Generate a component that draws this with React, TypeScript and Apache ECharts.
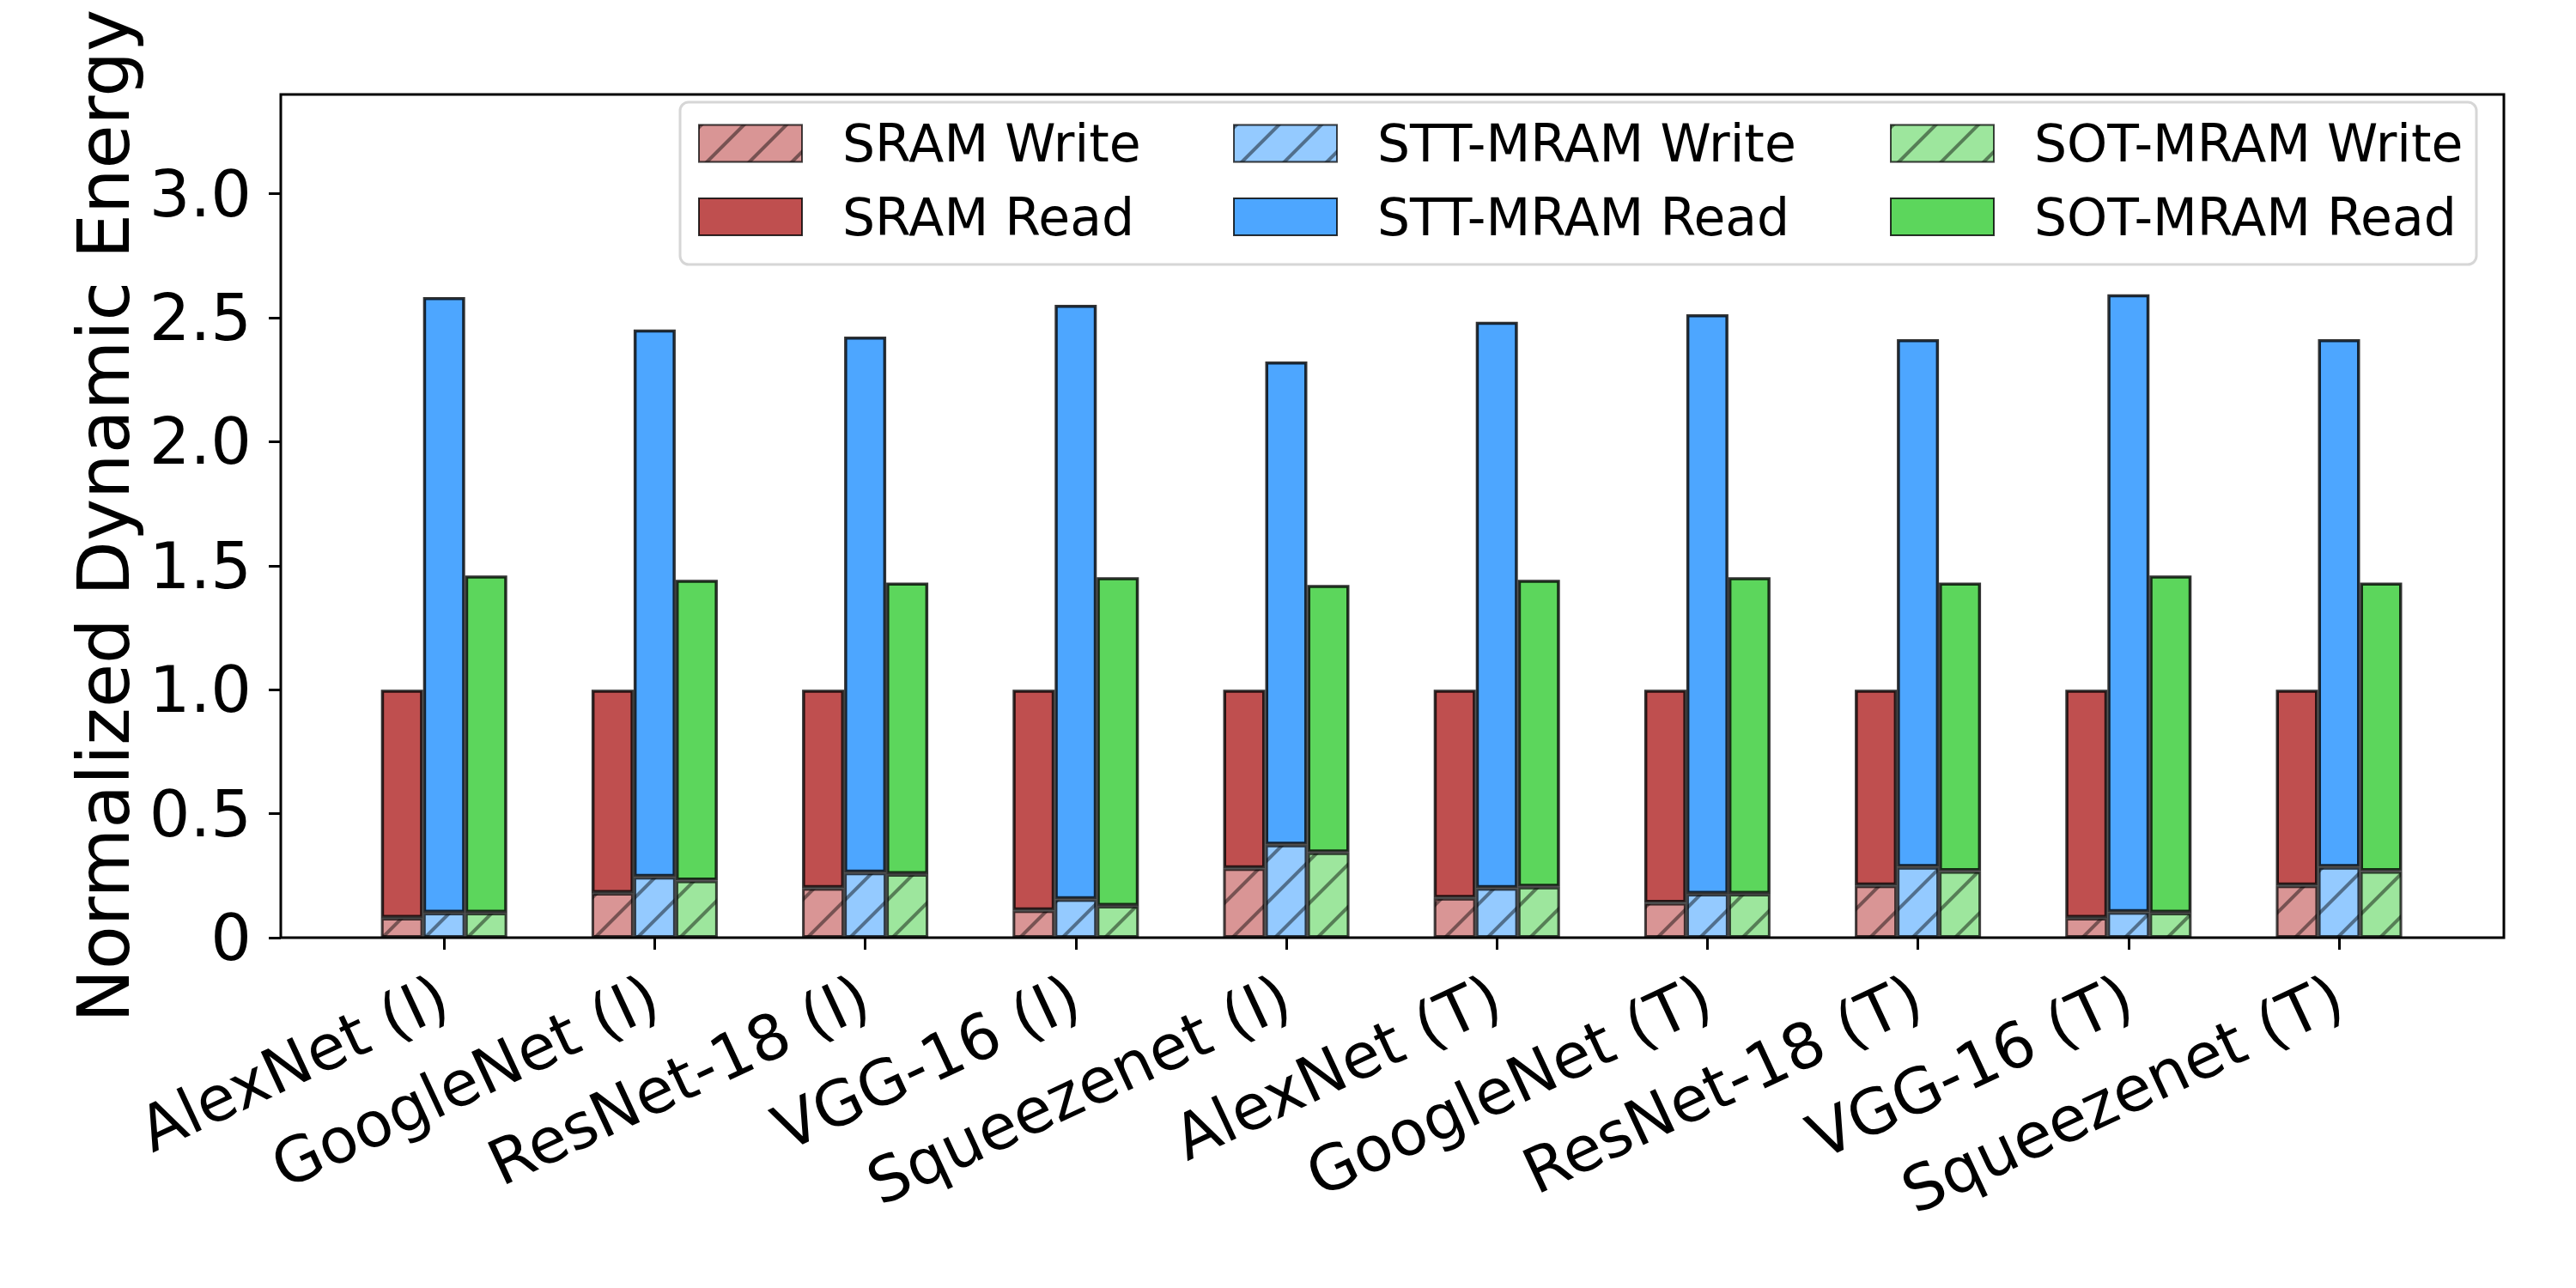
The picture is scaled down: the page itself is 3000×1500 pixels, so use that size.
import React, { useEffect, useRef } from "react";
import * as echarts from "echarts";

const categories = [
  "AlexNet (I)", "GoogleNet (I)", "ResNet-18 (I)", "VGG-16 (I)", "Squeezenet (I)",
  "AlexNet (T)", "GoogleNet (T)", "ResNet-18 (T)", "VGG-16 (T)", "Squeezenet (T)",
];

const sramWrite = [0.08, 0.18, 0.2, 0.11, 0.28, 0.16, 0.14, 0.21, 0.08, 0.21];
const sramRead = [0.92, 0.82, 0.8, 0.89, 0.72, 0.84, 0.86, 0.79, 0.92, 0.79];
const sttWrite = [0.1, 0.245, 0.262, 0.155, 0.375, 0.2, 0.177, 0.285, 0.103, 0.285];
const sttRead = [2.483, 2.207, 2.162, 2.397, 1.948, 2.283, 2.337, 2.128, 2.491, 2.128];
const sotWrite = [0.1, 0.23, 0.256, 0.128, 0.344, 0.205, 0.177, 0.268, 0.1, 0.268];
const sotRead = [1.36, 1.213, 1.176, 1.325, 1.078, 1.238, 1.276, 1.164, 1.36, 1.164];

const yTicks = [0, 0.5, 1.0, 1.5, 2.0, 2.5, 3.0];

const FONT = "DejaVu Sans";

const hatch = {
  symbol: "rect",
  symbolSize: 1,
  dashArrayX: [1, 0],
  dashArrayY: [4, 31],
  rotation: -Math.PI / 4,
  color: "rgba(0,0,0,0.45)",
};

function writeStyle(rgb: string) {
  return {
    color: `rgba(${rgb},0.6)`,
    borderColor: "rgba(0,0,0,0.48)",
    borderWidth: 3,
    decal: hatch,
  };
}
function readStyle(rgb: string) {
  return {
    color: `rgb(${rgb})`,
    borderColor: "rgba(0,0,0,0.8)",
    borderWidth: 3.5,
  };
}

const SRAM = "191,79,79";
const STT = "77,166,255";
const SOT = "92,214,92";

export default function App() {
  const ref = useRef<HTMLDivElement>(null);
  useEffect(() => {
    document.body.style.margin = "0";
    const chart = echarts.init(ref.current!, null, { renderer: "svg", width: 3000, height: 1500 });
    const bar = (name: string, stack: string, data: number[], itemStyle: any) => ({
      name,
      type: "bar",
      stack,
      data,
      barWidth: 49,
      barGap: "0%",
      itemStyle,
      emphasis: { disabled: true },
    });
    const legendBase = (left: number) => ({
      orient: "vertical",
      left,
      top: 137,
      padding: 0,
      icon: "rect",
      itemWidth: 120,
      itemHeight: 43,
      itemGap: 25.5,
      selectedMode: false,
      textStyle: { fontSize: 60, fontFamily: FONT, color: "#000", lineHeight: 43, padding: [0, 0, 0, 42] },
    });
    chart.setOption({
      animation: false,
      backgroundColor: "#fff",
      textStyle: { fontFamily: FONT },
      grid: { left: 394.6, top: 110, width: 2452, height: 982, containLabel: false },
      legend: [
        { ...legendBase(813), data: ["SRAM Write", "SRAM Read"] },
        { ...legendBase(1436), data: ["STT-MRAM Write", "STT-MRAM Read"] },
        { ...legendBase(2201), data: ["SOT-MRAM Write", "SOT-MRAM Read"] },
      ],
      xAxis: {
        type: "category",
        data: categories,
        axisLine: { show: false },
        axisTick: { show: true, alignWithLabel: true, length: 14, lineStyle: { color: "#000", width: 3 } },
        axisLabel: { interval: 0, rotate: 25, fontSize: 73, fontFamily: FONT, color: "#000", margin: 64 },
        splitLine: { show: false },
      },
      yAxis: {
        type: "value",
        min: 0,
        max: 3.4,
        interval: 0.5,
        offset: 67.6,
        name: "Normalized Dynamic Energy",
        nameLocation: "middle",
        nameGap: 163,
        nameTextStyle: { fontSize: 83, fontFamily: FONT, color: "#000" },
        axisLine: { show: false },
        splitLine: { show: false },
        axisTick: { show: true, length: 14, lineStyle: { color: "#000", width: 3 }, customValues: yTicks },
        axisLabel: {
          customValues: yTicks,
          fontSize: 75,
          fontFamily: FONT,
          color: "#000",
          margin: 34,
          formatter: (v: number) => (v === 0 ? "0" : v.toFixed(1)),
        },
      },
      graphic: [
        {
          type: "rect",
          z: 1,
          shape: { x: 792, y: 119, width: 2092, height: 189, r: 10 },
          style: { fill: "rgba(255,255,255,0.8)", stroke: "#d6d6d6", lineWidth: 3 },
        },
        {
          type: "rect",
          z: 100,
          shape: { x: 327, y: 110, width: 2589, height: 982 },
          style: { fill: "none", stroke: "#000", lineWidth: 3 },
        },
      ],
      series: [
        bar("SRAM Write", "sram", sramWrite, writeStyle(SRAM)),
        bar("SRAM Read", "sram", sramRead, readStyle(SRAM)),
        bar("STT-MRAM Write", "stt", sttWrite, writeStyle(STT)),
        bar("STT-MRAM Read", "stt", sttRead, readStyle(STT)),
        bar("SOT-MRAM Write", "sot", sotWrite, writeStyle(SOT)),
        bar("SOT-MRAM Read", "sot", sotRead, readStyle(SOT)),
      ],
    });
    return () => chart.dispose();
  }, []);
  return <div ref={ref} style={{ width: 3000, height: 1500 }} />;
}
